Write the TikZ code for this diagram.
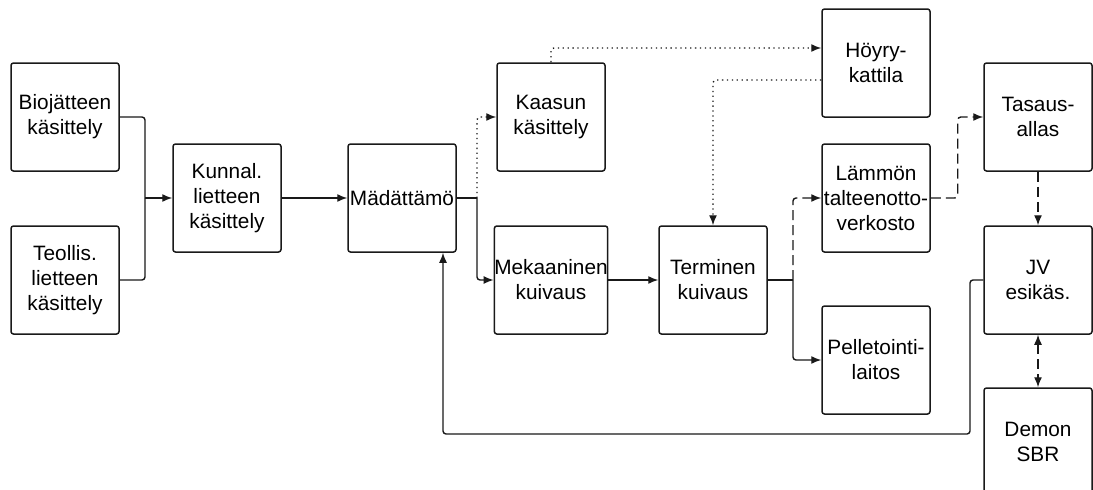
\documentclass[tikz,border=0pt]{standalone}
\usepackage{fontspec}
\setmainfont{Liberation Sans}
\usetikzlibrary{arrows.meta}
\tikzset{
  block/.style={draw=black!90, line width=1.5pt, rounded corners=2.5pt, fill=white,
    minimum width=108pt, minimum height=108pt, inner sep=0pt, align=center,
    font=\fontsize{20.8pt}{25pt}\selectfont},
  conn/.style={draw=black!90, line width=1.4pt, rounded corners=3pt},
  arr/.style={conn, -{Latex[length=10pt,width=8pt]}},
  dotline/.style={dash pattern=on 1.3pt off 3.6pt},
  dashline/.style={dash pattern=on 10pt off 5pt},
}
\begin{document}
\begin{tikzpicture}[x=1pt,y=-1pt]
\clip (0,0) rectangle (1093,490);
\fill[white] (0,0) rectangle (1093,490);

% process blocks
\node[block] (bio)    at (65,117)   {Biojätteen\\käsittely};
\node[block] (teol)   at (65,280)   {Teollis.\\lietteen\\käsittely};
\node[block] (kunnal) at (227,198)  {Kunnal.\\lietteen\\käsittely};
\node[block] (mad)    at (402,198)  {Mädättämö};
\node[block] (kaasun) at (551,117)  {Kaasun\\käsittely};
\node[block] (meka)   at (551,280)  {Mekaaninen\\kuivaus};
\node[block] (term)   at (713,280)  {Terminen\\kuivaus};
\node[block] (hoyry)  at (876,63)   {Höyry-\\kattila};
\node[block] (lamm)   at (876,198)  {Lämmön\\talteenotto-\\verkosto};
\node[block] (pell)   at (876,360)  {Pelletointi-\\laitos};
\node[block] (tas)    at (1038,117) {Tasaus-\\allas};
\node[block] (jv)     at (1038,280) {JV\\esikäs.};
\node[block] (demon)  at (1038,442) {Demon\\SBR};

% junction points
\coordinate (j1) at (145,198);
\coordinate (j2) at (477,198);
\coordinate (j3) at (793,280);
\coordinate (fb) at (970,434);

% sludge line
\draw[conn] (bio.east) -| (j1);
\draw[conn] (teol.east) -| (j1);
\draw[arr] (j1) -- (kunnal.west);
\draw[arr] (kunnal.east) -- (mad.west);
\draw[conn] (mad.east) -- (j2);
\draw[arr] (j2) |- (meka.west);
\draw[arr] (meka.east) -- (term.west);
\draw[conn] (term.east) -- (j3);
\draw[arr] (j3) |- (pell.west);

% gas line
\draw[arr, dotline] (j2) |- (kaasun.west);
\draw[arr, dotline] (kaasun.north) |- ([yshift=15pt]hoyry.west);
\draw[arr, dotline] ([yshift=-17pt]hoyry.west) -| (term.north);

% heat and reject water
\draw[arr, dashline] (j3) |- (lamm.west);
\draw[arr, dashline] (lamm.east) -- ++(27,0) |- (tas.west);
\draw[arr, dashline] (tas.south) -- (jv.north);
\draw[dashline, draw=black!90, line width=1.4pt,
  {Latex[length=10pt,width=8pt]}-{Latex[length=10pt,width=8pt]}] (jv.south) -- (demon.north);

% return flow
\draw[arr] (jv.west) -| (fb) -| ([xshift=41pt]mad.south);
\end{tikzpicture}
\end{document}
